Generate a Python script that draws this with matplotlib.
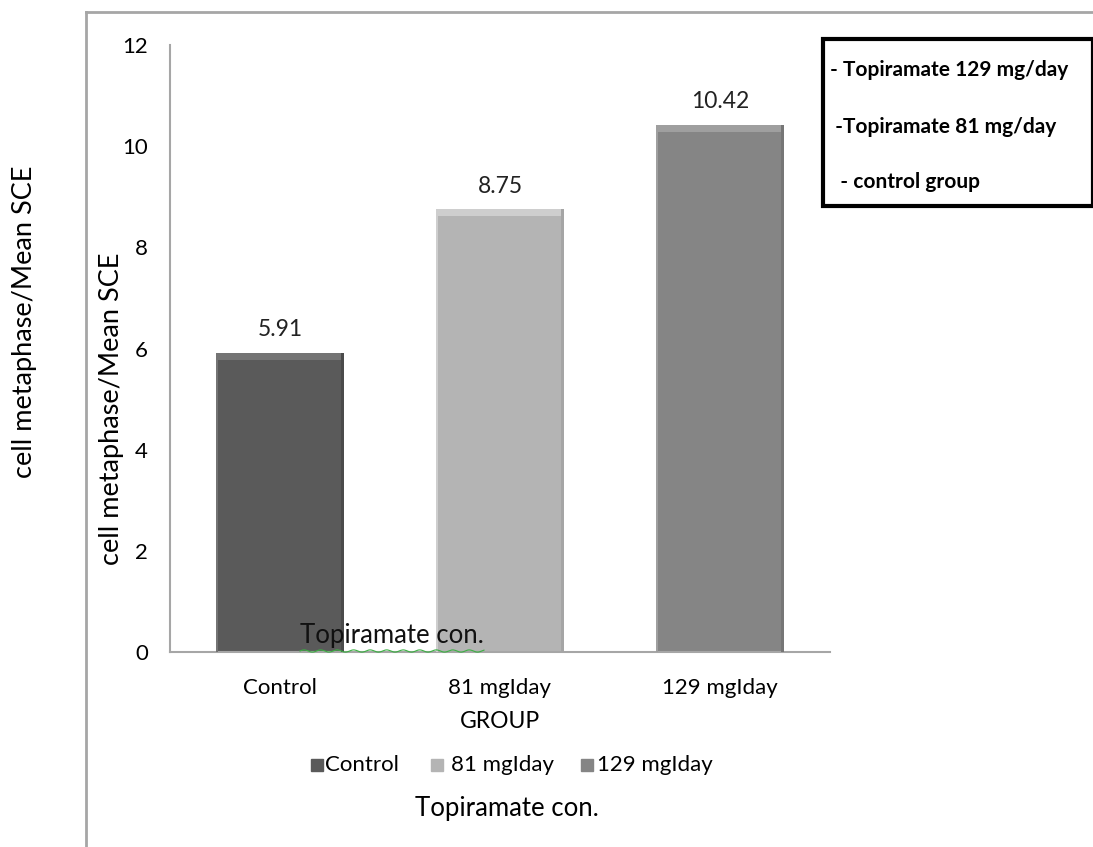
import matplotlib
matplotlib.use("Agg")
import matplotlib.pyplot as plt
import numpy as np
from matplotlib.patches import Rectangle

categories = ["Control", "81 mgIday", "129 mgIday"]
values = [5.91, 8.75, 10.42]
value_labels = ["5.91", "8.75", "10.42"]
colors = ["#5a5a5a", "#b4b4b4", "#858585"]
yticks = [0, 2, 4, 6, 8, 10, 12]
box_lines = ["- Topiramate 129 mg/day", " -Topiramate 81 mg/day", "  - control group"]

plt.rcParams['font.family'] = ['Lato', 'DejaVu Sans']

W, H = 1093, 847
fig = plt.figure(figsize=(W / 100, H / 100), dpi=100)

def fx(px):
    return px / W

def fy(py):
    return 1 - py / H

# outer frame (gray)
fig.add_artist(plt.Line2D([fx(86), fx(86)], [fy(12), fy(847)], color="#a6a6a6", lw=2))
fig.add_artist(plt.Line2D([fx(86), fx(1093)], [fy(12), fy(12)], color="#a6a6a6", lw=2))

ax = fig.add_axes([fx(170), fy(652), fx(830) - fx(170), fy(45) - fy(652)])
x = np.arange(len(categories))
bw = 0.586
bars = ax.bar(x, values, width=bw, color=colors, edgecolor="none", zorder=2)

# subtle bevel highlights
for xi, v, c in zip(x, values, colors):
    rgb = np.array(matplotlib.colors.to_rgb(c))
    light = np.clip(rgb + 0.10, 0, 1)
    dark = np.clip(rgb - 0.06, 0, 1)
    ax.add_patch(Rectangle((xi - bw / 2, v - 0.14), bw, 0.14, color=light, zorder=3, lw=0))
    ax.add_patch(Rectangle((xi - bw / 2, 0), 0.012, v, color=light, zorder=3, lw=0))
    ax.add_patch(Rectangle((xi + bw / 2 - 0.015, 0), 0.015, v, color=dark, zorder=3, lw=0))

for xi, v, lab in zip(x, values, value_labels):
    ax.text(xi, v + 0.25, lab, ha="center", va="bottom", fontsize=16.5, color="#222222")

ax.set_xlim(-0.5, len(categories) - 0.5)
ax.set_ylim(0, 12)
ax.set_yticks(yticks)
ax.set_yticklabels([str(t) for t in yticks], fontsize=16)
ax.set_xticks(x)
ax.set_xticklabels(categories, fontsize=16)
ax.tick_params(axis="both", length=0)
ax.tick_params(axis="y", pad=16)
ax.tick_params(axis="x", pad=19)
for s in ["top", "right"]:
    ax.spines[s].set_visible(False)
ax.spines["left"].set_color("#a6a6a6")
ax.spines["bottom"].set_color("#a6a6a6")
ax.spines["left"].set_linewidth(1.5)
ax.spines["bottom"].set_linewidth(1.5)

ax.set_ylabel("cell metaphase/Mean SCE", fontsize=19.5)
ax.yaxis.set_label_coords((124 - 170) / 660, 0.40)

# overlay texts
fig.text(fx(392), fy(636), "Topiramate con.", ha="center", va="center", fontsize=18.5, color="#111111")
xs = np.linspace(fx(300), fx(484), 200)
ys = fy(651) + 0.0013 * np.sin(np.linspace(0, 70, 200))
fig.add_artist(plt.Line2D(xs, ys, color="#3cb043", lw=0.8))

fig.text(fx(25), fy(322), "cell metaphase/Mean SCE", rotation=90, ha="center", va="center", fontsize=19.5)
fig.text(fx(500), fy(721), "GROUP", ha="center", va="center", fontsize=16.5)
fig.text(fx(507), fy(808), "Topiramate con.", ha="center", va="center", fontsize=18.5)

# bottom legend
leg_x = [311, 431, 581]
leg_t = [325, 451, 597]
for lx, tx, c, lab in zip(leg_x, leg_t, colors, categories):
    fig.add_artist(Rectangle((fx(lx), fy(771)), fx(12), fy(759) - fy(771), color=c, transform=fig.transFigure))
    fig.text(fx(tx), fy(765), lab, ha="left", va="center", fontsize=16)

# right text box
fig.add_artist(Rectangle((fx(823), fy(206)), fx(1093) - fx(823), fy(39) - fy(206),
                         fill=False, edgecolor="black", lw=3, transform=fig.transFigure))
for ty, t in zip([70, 127, 182], box_lines):
    fig.text(fx(830), fy(ty), t, ha="left", va="center", fontsize=15, fontweight="bold")

fig.savefig("out.png", dpi=100)
